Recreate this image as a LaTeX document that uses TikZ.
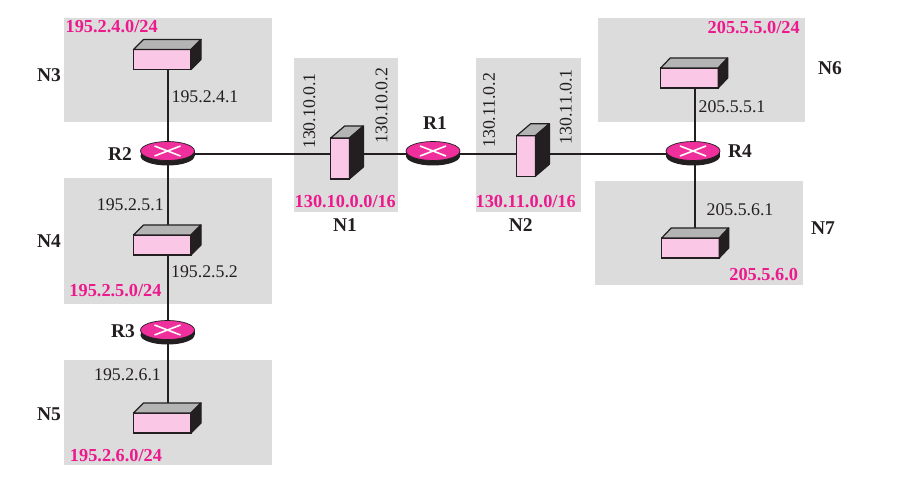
\documentclass[tikz,border=0pt]{standalone}
\usepackage{fontspec}
\setmainfont{Liberation Serif}
\usetikzlibrary{shapes.geometric,backgrounds,calc}
\definecolor{netgrey}{HTML}{DCDCDC}
\definecolor{facepink}{HTML}{FAC8E6}
\definecolor{topgrey}{HTML}{B4B4B4}
\definecolor{inkdark}{HTML}{231F20}
\definecolor{routerpink}{HTML}{EE2F9C}
\definecolor{netpink}{HTML}{EC1A8C}
\tikzset{
  x=1pt,y=-1pt,
  netarea/.style={fill=netgrey,draw=none},
  link/.style={draw=inkdark,line width=2pt},
  front/.style={draw=inkdark,line width=1.2pt,fill=facepink,inner sep=0pt,outer sep=0pt,anchor=north west},
  topface/.style={draw=inkdark,line width=1.2pt,fill=topgrey,line join=round},
  sideface/.style={draw=inkdark,line width=1.2pt,fill=inkdark,line join=round},
  routertop/.style={ellipse,draw=inkdark,line width=0.7pt,fill=routerpink,minimum width=54pt,minimum height=19pt,inner sep=0pt,outer sep=0pt},
  addr/.style={text=inkdark,inner sep=0pt,font=\fontsize{17.8}{20}\selectfont},
  netaddr/.style={text=netpink,inner sep=0pt,font=\fontsize{18.3}{20}\selectfont\bfseries},
  tag/.style={text=inkdark,inner sep=0pt,font=\fontsize{19.5}{22}\selectfont\bfseries},
}
% name, x, y, w, h, dx, dy
\newcommand{\swbox}[7]{%
  \node[front,minimum width=#4pt,minimum height=#5pt] (#1) at (#2,#3) {};
  \draw[topface] (#1.north west) -- ++(#6,-#7) -- ++(#4,0) -- (#1.north east) -- cycle;
  \draw[sideface] (#1.north east) -- ++(#6,-#7) -- ++(0,#5) -- (#1.south east) -- cycle;
}
\newcommand{\routerat}[3]{%
  \fill[inkdark] (#2,#3+5) ellipse [x radius=27pt,y radius=9.5pt];
  \fill[inkdark] (#2-27,#3) rectangle (#2+27,#3+5);
  \node[routertop] (#1) at (#2,#3) {};
  \draw[white,line width=1.6pt] (#2-13,#3-5) -- (#2+13,#3+5) (#2-13,#3+5) -- (#2+13,#3-5);
}
\begin{document}
\begin{tikzpicture}
\useasboundingbox (0,0) rectangle (904,478);
% switches and routers
\swbox{sw3}{133.5}{49.5}{57.5}{20}{10}{10}
\swbox{sw4}{133.5}{235}{57.5}{20}{10}{10}
\swbox{sw5}{133.5}{413}{57.5}{20}{10}{10}
\swbox{sw6}{660.7}{68}{57.5}{20}{9.5}{10}
\swbox{sw7}{661.7}{238}{57.5}{20}{9.5}{10}
\swbox{sw1}{330.7}{138}{18.7}{41}{14}{12}
\swbox{sw2}{516.7}{135.7}{18.7}{40.5}{14}{12}
\routerat{r1}{433}{151}
\routerat{r2}{167.5}{151}
\routerat{r3}{167.5}{330}
\routerat{r4}{693}{151}
\coordinate (bus) at (0,153.7);
\coordinate (r4drop) at (695,151);
\begin{pgfonlayer}{background}
  \fill[netarea] (64,18) rectangle (271.5,122);
  \fill[netarea] (64,178) rectangle (271.5,303.7);
  \fill[netarea] (64,359.5) rectangle (271.5,465);
  \fill[netarea] (294,58) rectangle (398,212);
  \fill[netarea] (476,58) rectangle (581,212);
  \fill[netarea] (598,18) rectangle (805,122);
  \fill[netarea] (595,181) rectangle (803,285);
  \draw[link] (r2 |- bus) -- (sw1.west |- bus);
  \draw[link] (sw1.east |- bus) -- (r1 |- bus);
  \draw[link] (r1 |- bus) -- (sw2.west |- bus);
  \draw[link] (sw2.east |- bus) -- (r4 |- bus);
  \draw[link] (r2) -- (r2 |- sw3.south);
  \draw[link] (r2) -- (r2 |- sw4.north);
  \draw[link] (r3) -- (r3 |- sw4.south);
  \draw[link] (r3) -- (r3 |- sw5.north);
  \draw[link] (r4drop) -- (r4drop |- sw6.south);
  \draw[link] (r4drop) -- (r4drop |- sw7.north);
\end{pgfonlayer}
% addresses
\node[addr] (a41) at (205,96.7) {195.2.4.1};
\node[addr] (a51) at (130.3,204.3) {195.2.5.1};
\node[addr] (a52) at (204.5,271.7) {195.2.5.2};
\node[addr] (a61) at (127.5,375) {195.2.6.1};
\node[addr] (a551) at (732,106.7) {205.5.5.1};
\node[addr] (a561) at (740,210) {205.5.6.1};
\node[addr,rotate=90] (a101) at (309.3,111) {130.10.0.1};
\node[addr,rotate=90] (a102) at (381.7,105.7) {130.10.0.2};
\node[addr,rotate=90] (a112) at (489,110.3) {130.11.0.2};
\node[addr,rotate=90] (a111) at (565.7,106.7) {130.11.0.1};
% network addresses
\node[netaddr] (p3) at (111.7,26.7) {195.2.4.0/24};
\node[netaddr] (p4) at (115.5,290.7) {195.2.5.0/24};
\node[netaddr] (p5) at (116,456) {195.2.6.0/24};
\node[netaddr] (p1) at (345.3,201.7) {130.10.0.0/16};
\node[netaddr] (p2) at (525.7,201.7) {130.11.0.0/16};
\node[netaddr] (p6) at (753.7,27.7) {205.5.5.0/24};
\node[netaddr] (p7) at (763.7,275) {205.5.6.0};
% tags
\node[tag] (tr1) at (435,123.3) {R1};
\node[tag] (tr2) at (120,154) {R2};
\node[tag] (tr3) at (123,331) {R3};
\node[tag] (tr4) at (740,151) {R4};
\node[tag] (tn1) at (345,225) {N1};
\node[tag] (tn2) at (520.7,225) {N2};
\node[tag] (tn3) at (49,75) {N3};
\node[tag] (tn4) at (49,241) {N4};
\node[tag] (tn5) at (49,414) {N5};
\node[tag] (tn6) at (830,68.3) {N6};
\node[tag] (tn7) at (823,228) {N7};
\end{tikzpicture}
\end{document}
